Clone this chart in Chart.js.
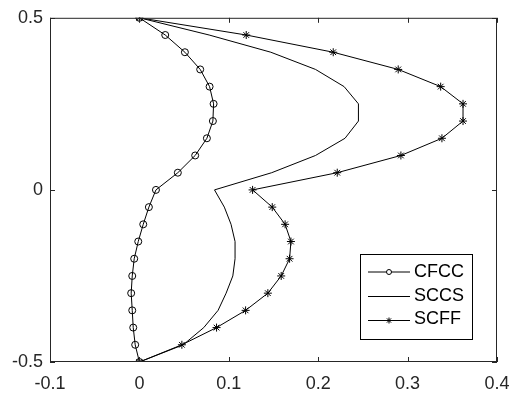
<!DOCTYPE html>
<html>
<head>
<meta charset="utf-8">
<script src="https://cdn.jsdelivr.net/npm/chart.js@4/dist/chart.umd.min.js"></script>
<style>
  html, body { margin: 0; padding: 0; background: #fff; }
  #grafico { display: block; }
</style>
</head>
<body>
<canvas id="grafico" width="521" height="396"></canvas>
<script>
// posições ao longo da espessura (eixo vertical)
const posicoes = [-0.5, -0.45, -0.4, -0.35, -0.3, -0.25, -0.2, -0.15, -0.1, -0.05, 0,
  0.05, 0.1, 0.15, 0.2, 0.25, 0.3, 0.35, 0.4, 0.45, 0.5];

const cfcc = [0, -0.0047, -0.0069, -0.008, -0.0092, -0.008, -0.0058, -0.0013, 0.0043, 0.0106, 0.0185,
  0.043, 0.0624, 0.0755, 0.0822, 0.083, 0.0785, 0.068, 0.0509, 0.0289, 0];

const sccs = [0, 0.049, 0.072, 0.088, 0.097, 0.1045, 0.107, 0.107, 0.1025, 0.095, 0.084,
  0.148, 0.197, 0.23, 0.245, 0.245, 0.229, 0.197, 0.147, 0.078, 0];

const scff = [0, 0.0475, 0.0863, 0.1188, 0.1437, 0.1586, 0.168, 0.1695, 0.163, 0.1486, 0.1266,
  0.2213, 0.2925, 0.3384, 0.362, 0.362, 0.337, 0.2895, 0.2168, 0.1195, 0];

const rotulos = ["CFCC", "SCCS", "SCFF"];
const ticksX = [-0.1, 0, 0.1, 0.2, 0.3, 0.4];
const ticksY = [-0.5, 0, 0.5];

const COR = "#262626";
const FONTE = "'Liberation Sans', Arial, Helvetica, sans-serif";

function pontos(xs) {
  return xs.map((x, i) => ({ x, y: posicoes[i] }));
}

function serie(label, xs, estilo, raio) {
  return {
    label,
    data: pontos(xs),
    showLine: true,
    borderColor: "#000",
    backgroundColor: "rgba(0,0,0,0)",
    borderWidth: 1,
    pointStyle: estilo,
    pointRadius: raio,
    pointBorderColor: "#000",
    pointBorderWidth: 1,
    pointHoverRadius: raio,
    tension: 0
  };
}

// caixa, marcas de escala internas e legenda no estilo MATLAB
const moldura = {
  id: "moldura",
  afterDraw(chart) {
    const { ctx, chartArea: a, scales } = chart;
    ctx.save();
    ctx.strokeStyle = COR;
    ctx.lineWidth = 1;
    ctx.strokeRect(a.left + 0.5, a.top + 0.5, a.right - a.left - 1, a.bottom - a.top - 1);
    const t = 5;
    ctx.beginPath();
    ticksX.forEach(v => {
      const px = Math.round(scales.x.getPixelForValue(v)) + 0.5;
      ctx.moveTo(px, a.bottom); ctx.lineTo(px, a.bottom - t);
      ctx.moveTo(px, a.top); ctx.lineTo(px, a.top + t);
    });
    ticksY.forEach(v => {
      const py = Math.round(scales.y.getPixelForValue(v)) + 0.5;
      ctx.moveTo(a.left, py); ctx.lineTo(a.left + t, py);
      ctx.moveTo(a.right, py); ctx.lineTo(a.right - t, py);
    });
    ctx.stroke();

    // legenda
    const bx = 360.5, by = 254.5, bw = 112, bh = 85;
    ctx.fillStyle = "#fff";
    ctx.fillRect(bx, by, bw, bh);
    ctx.strokeStyle = "#000";
    ctx.strokeRect(bx, by, bw, bh);
    ctx.font = "18px " + FONTE;
    ctx.textBaseline = "middle";
    ctx.textAlign = "left";
    const linhas = [272, 296.5, 320.5];
    const textos = [272, 296.5, 319.5];
    chart.data.datasets.forEach((ds, i) => {
      const y = linhas[i];
      ctx.strokeStyle = "#000";
      ctx.beginPath();
      ctx.moveTo(368, y); ctx.lineTo(410, y);
      ctx.stroke();
      if (ds.pointStyle === "circle") {
        ctx.fillStyle = "#fff";
        ctx.beginPath();
        ctx.arc(389, y, 2.5, 0, Math.PI * 2);
        ctx.fill(); ctx.stroke();
      } else if (ds.pointStyle === "star") {
        Chart.helpers.drawPoint(ctx, { pointStyle: "star", radius: 3, borderWidth: 1 }, 389, y);
      }
      ctx.fillStyle = "#000";
      ctx.fillText(ds.label, 414, textos[i]);
    });
    ctx.restore();
  }
};

new Chart(document.getElementById("grafico"), {
  type: "scatter",
  data: {
    datasets: [
      serie(rotulos[0], cfcc, "circle", 3.5),
      serie(rotulos[1], sccs, false, 0),
      serie(rotulos[2], scff, "star", 4)
    ]
  },
  options: {
    responsive: false,
    animation: false,
    layout: { padding: { left: 0, top: 10, right: 24, bottom: 0 } },
    plugins: { legend: { display: false }, tooltip: { enabled: false } },
    scales: {
      x: {
        type: "linear",
        min: -0.1, max: 0.4,
        afterBuildTicks: s => { s.ticks = ticksX.map(v => ({ value: v })); },
        afterFit: s => { s.height = 34; },
        grid: { display: false, drawTicks: false },
        border: { display: false },
        ticks: {
          padding: 11,
          color: COR,
          font: { size: 18, family: FONTE },
          callback: v => String(parseFloat(v.toFixed(2)))
        }
      },
      y: {
        type: "linear",
        min: -0.5, max: 0.5,
        afterBuildTicks: s => { s.ticks = ticksY.map(v => ({ value: v })); },
        afterFit: s => { s.width = 50; },
        grid: { display: false, drawTicks: false },
        border: { display: false },
        ticks: {
          padding: 7,
          color: COR,
          font: { size: 18, family: FONTE },
          callback: v => String(parseFloat(v.toFixed(2)))
        }
      }
    }
  },
  plugins: [moldura]
});
</script>
</body>
</html>
